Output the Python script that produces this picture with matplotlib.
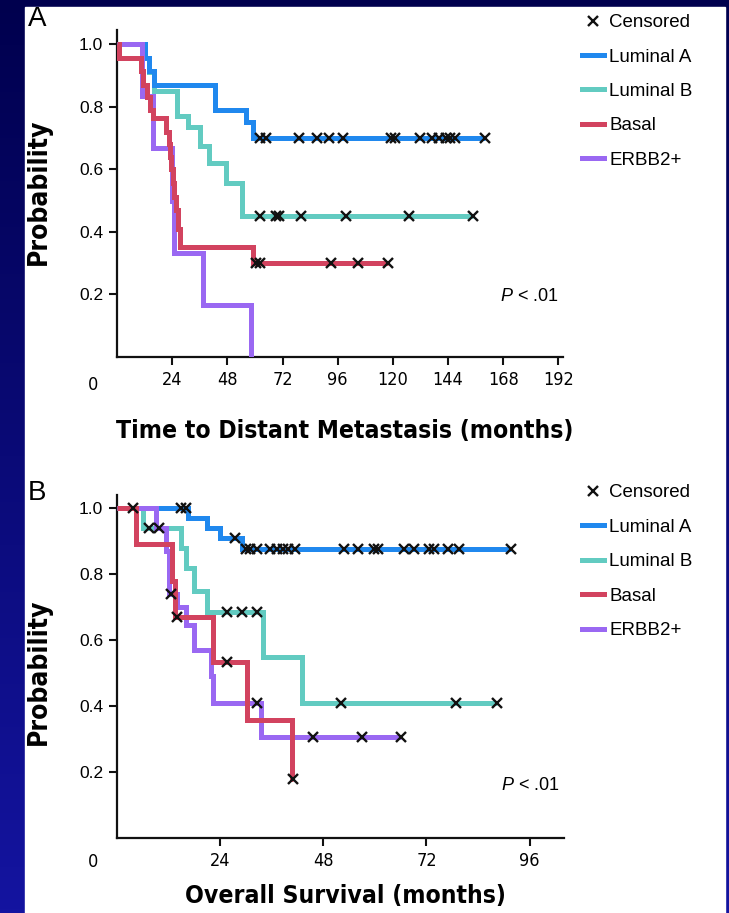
import numpy as np
import matplotlib
matplotlib.use('Agg')
import matplotlib.pyplot as plt
from matplotlib.lines import Line2D
from matplotlib.patches import Rectangle
from matplotlib.colors import LinearSegmentedColormap

plt.rcParams['font.family'] = ['Liberation Sans', 'DejaVu Sans']
plt.rcParams['mathtext.fontset'] = 'custom'
plt.rcParams['mathtext.it'] = 'Liberation Sans:italic'
plt.rcParams['mathtext.rm'] = 'Liberation Sans'

# condensed face for the axis titles and x tick numbers
COND = dict(family='DejaVu Sans', fontstretch='condensed')

# ---- A: time to distant metastasis (months) ----
met_lumA_t = [0, 12, 14, 16, 42.5, 56, 59, 160]
met_lumA_s = [1.0, 0.957, 0.913, 0.87, 0.79, 0.75, 0.70, 0.70]
met_lumA_cens = [62, 65, 79, 87, 92, 98.5, 119, 121, 132, 137, 140, 143, 145, 147, 160]

met_lumB_t = [0, 12, 14, 16, 26, 31, 36, 40, 47.5, 54.5, 155]
met_lumB_s = [1.0, 0.955, 0.91, 0.85, 0.77, 0.735, 0.675, 0.62, 0.555, 0.45, 0.45]
met_lumB_cens = [62, 69, 70.5, 80, 99.5, 127, 155]

met_basal_t = [0, 1, 10.5, 11.5, 13, 14.5, 15.5, 21.5, 22.5, 23, 23.5, 24.5, 25, 25.5, 26.5, 27.5, 59, 118]
met_basal_s = [1.0, 0.957, 0.915, 0.87, 0.83, 0.79, 0.765, 0.72, 0.68, 0.64, 0.60, 0.557, 0.51, 0.47, 0.41, 0.35, 0.30, 0.30]
met_basal_cens = [60.5, 62, 93, 105, 118]

met_erbb2_t = [0, 11, 15.5, 24, 24.8, 37.3, 58.5]
met_erbb2_s = [1.0, 0.833, 0.667, 0.5, 0.333, 0.167, 0.0]
met_erbb2_cens = []

# ---- B: overall survival (months) ----
os_lumA_t = [0, 16.5, 21, 24, 29, 91.6]
os_lumA_s = [1.0, 0.97, 0.94, 0.91, 0.875, 0.875]
os_lumA_cens = [14.8, 16, 27.5, 30, 31, 32.6, 35.7, 37.3, 38.7, 39.9, 41.5,
                52.7, 56, 59.7, 60.8, 66.7, 69, 72.5, 73.7, 77, 79.5, 91.6]

os_lumB_t = [0, 6, 15, 16, 18, 21, 34, 43, 88.5]
os_lumB_s = [1.0, 0.94, 0.88, 0.82, 0.75, 0.685, 0.548, 0.41, 0.41]
os_lumB_cens = [7.5, 25.6, 29, 32.6, 52, 78.8, 88.5]

os_basal_t = [0, 4.5, 12.8, 13.4, 22.4, 30.3, 40.8, 41]
os_basal_s = [1.0, 0.89, 0.78, 0.67, 0.535, 0.357, 0.18, 0.18]
os_basal_cens = [3.7, 14, 25.6, 41]

os_erbb2_t = [0, 9, 11.5, 12.2, 14, 16, 18, 21.9, 22.3, 33.5, 66]
os_erbb2_s = [1.0, 0.94, 0.87, 0.74, 0.70, 0.645, 0.57, 0.49, 0.41, 0.305, 0.305]
os_erbb2_cens = [9.7, 12.6, 32.6, 45.7, 57, 66]

groups = ['Luminal A', 'Luminal B', 'Basal', 'ERBB2+']
colors = {'Luminal A': '#2088ee', 'Luminal B': '#62cbc1',
          'Basal': '#d2435f', 'ERBB2+': '#9a68f2'}
draw_order = ['Luminal B', 'Luminal A', 'ERBB2+', 'Basal']

yticks = [0.2, 0.4, 0.6, 0.8, 1.0]
ytick_labels = ['0.2', '0.4', '0.6', '0.8', '1.0']
met_xticks = [24, 48, 72, 96, 120, 144, 168, 192]
os_xticks = [24, 48, 72, 96]

panels = [
    dict(letter='A', xlabel='Time to Distant Metastasis (months)', xticks=met_xticks,
         xmax=194, ytop=1.045,
         curves={'Luminal A': (met_lumA_t, met_lumA_s, met_lumA_cens),
                 'Luminal B': (met_lumB_t, met_lumB_s, met_lumB_cens),
                 'Basal': (met_basal_t, met_basal_s, met_basal_cens),
                 'ERBB2+': (met_erbb2_t, met_erbb2_s, met_erbb2_cens)}),
    dict(letter='B', xlabel='Overall Survival (months)', xticks=os_xticks,
         xmax=104, ytop=1.04,
         curves={'Luminal A': (os_lumA_t, os_lumA_s, os_lumA_cens),
                 'Luminal B': (os_lumB_t, os_lumB_s, os_lumB_cens),
                 'Basal': (os_basal_t, os_basal_s, os_basal_cens),
                 'ERBB2+': (os_erbb2_t, os_erbb2_s, os_erbb2_cens)}),
]

W, H = 729, 913
fig = plt.figure(figsize=(W / 100, H / 100), dpi=100)

# slide background with the white card on top
bg = fig.add_axes([0, 0, 1, 1], zorder=-10)
grad = np.linspace(0, 1, 256).reshape(-1, 1)
cmap = LinearSegmentedColormap.from_list('slide', ['#00004e', '#1414a0'])
bg.imshow(grad, cmap=cmap, aspect='auto', extent=[0, 1, 0, 1], origin='upper')
bg.add_patch(Rectangle((25 / W, 0), 700 / W, (H - 7) / H, color='white'))
bg.set_xlim(0, 1)
bg.set_ylim(0, 1)
bg.axis('off')

# axes boxes in pixels: left, top, right, bottom
boxes = [(117, 30, 563, 357), (117, 495, 564, 838)]
legend_top = [14, 484]
legend_gap = [0.92, 0.93]
letter_y = [6, 480]
xlabel_y = [-0.19, -0.135]
ylabel_y = [0.505, 0.484]
zero_y = [-0.058, -0.045]
p_y = [0.185, 0.152]

for i, p in enumerate(panels):
    l, t, r, b = boxes[i]
    ax = fig.add_axes([l / W, (H - b) / H, (r - l) / W, (b - t) / H])
    ax.set_facecolor('none')

    for g in draw_order:
        tt, ss, cc = p['curves'][g]
        ax.step(tt, ss, where='post', color=colors[g], lw=3.6, zorder=3,
                solid_joinstyle='miter', solid_capstyle='butt')
    for g in draw_order:
        tt, ss, cc = p['curves'][g]
        if len(cc):
            idx = np.searchsorted(tt, cc, side='right') - 1
            ax.plot(cc, np.asarray(ss)[idx], ls='none', marker='x', ms=6.5,
                    mew=1.7, color='#111111', zorder=5, clip_on=False)

    ax.set_xlim(0, p['xmax'])
    ax.set_ylim(0, p['ytop'])
    for side in ['top', 'right']:
        ax.spines[side].set_visible(False)
    for side in ['left', 'bottom']:
        ax.spines[side].set_linewidth(1.6)
        ax.spines[side].set_color('#111111')
    ax.set_xticks(p['xticks'])
    ax.set_xticklabels([str(v) for v in p['xticks']], fontsize=13, **COND)
    ax.set_yticks(yticks)
    ax.set_yticklabels(ytick_labels, fontsize=12.5)
    ax.tick_params(direction='out', length=6, width=1.5, color='#111111', pad=4)
    ax.text(-0.054, zero_y[i], '0', transform=ax.transAxes, ha='center', va='top',
            fontsize=13, **COND)

    ax.set_ylabel('Probability', fontsize=19, fontweight='bold', **COND)
    ax.yaxis.set_label_coords(-0.145, ylabel_y[i])
    ax.set_xlabel(p['xlabel'], fontsize=17.7, fontweight='bold', va='top', **COND)
    ax.xaxis.set_label_coords(0.51, xlabel_y[i])

    ax.text(0.99, p_y[i], r'$P$ < .01', transform=ax.transAxes, ha='right',
            va='center', fontsize=13)

    fig.text(28 / W, 1 - letter_y[i] / H, p['letter'], ha='left', va='top', fontsize=20)

    handles = [Line2D([], [], ls='none', marker='x', ms=6.5, mew=1.7, color='#111111')]
    handles += [Line2D([], [], color=colors[g], lw=3.6) for g in groups]
    ax.legend(handles, ['Censored'] + groups, loc='upper left',
              bbox_to_anchor=(582 / W, 1 - legend_top[i] / H), bbox_transform=fig.transFigure,
              frameon=False, fontsize=13.5, handlelength=1.15, handletextpad=0.3,
              labelspacing=legend_gap[i], borderpad=0, borderaxespad=0)

fig.savefig('out.png', dpi=100)
